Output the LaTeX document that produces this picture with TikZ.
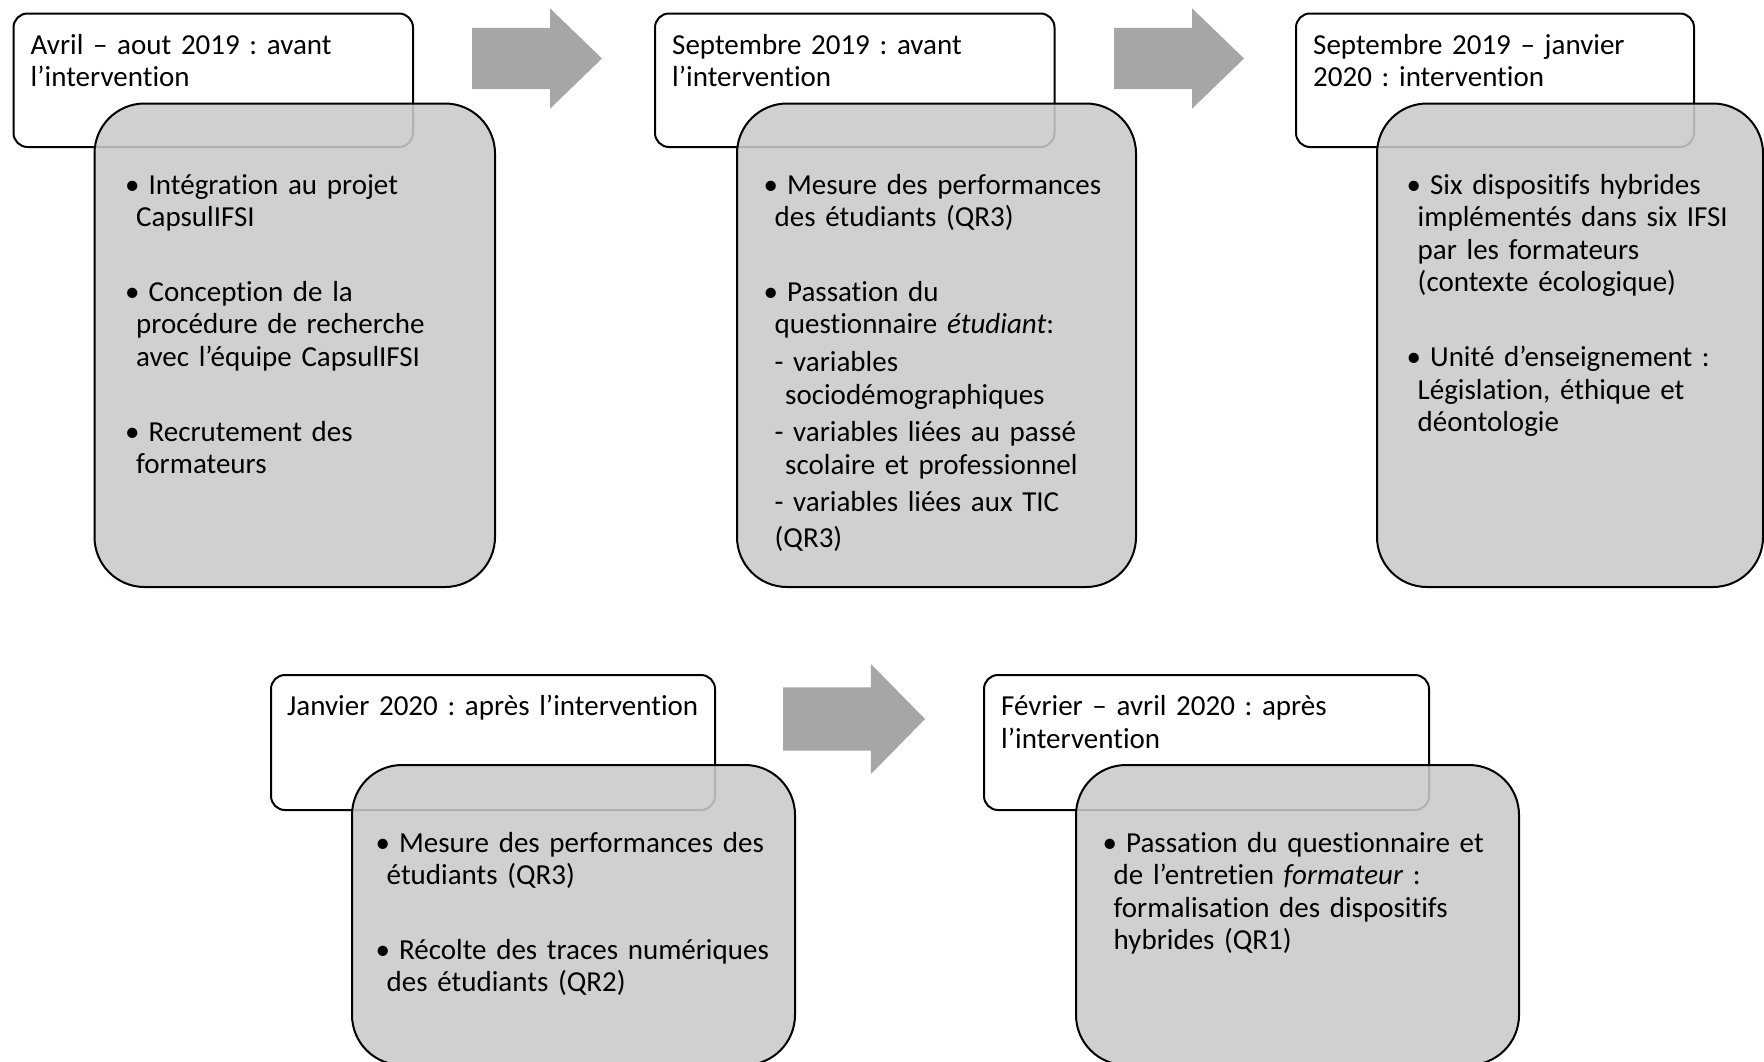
\documentclass[tikz,border=0pt]{standalone}
\usepackage{fontspec}
\setmainfont{Carlito}[Ligatures=NoCommon]
\frenchspacing
\usetikzlibrary{shapes.arrows}
\definecolor{boxgrey}{HTML}{CACACA}
\definecolor{arrowgrey}{HTML}{A6A6A6}
\newcommand{\ind}{\hspace*{11pt}}
\newcommand{\indd}{\hspace*{21.5pt}}
\newcommand{\bul}{•\hspace{9pt}}

\begin{document}
\begin{tikzpicture}[x=1pt,y=-1pt]
  \tikzstyle{phase}=[draw, line width=2pt, rounded corners=14pt, fill=white,
    anchor=north west, inner sep=0, outer sep=0]
  \tikzstyle{detail}=[draw, line width=2pt, rounded corners=50pt, fill=boxgrey,
    fill opacity=0.88, anchor=north west, inner sep=0, outer sep=0]
  \tikzstyle{steparrow}=[single arrow, fill=arrowgrey, anchor=tail, inner xsep=0,
    inner ysep=30.5pt, outer sep=0, minimum height=130pt, minimum width=99pt,
    single arrow head extend=19.5pt, single arrow tip angle=88]
  \tikzstyle{boxtext}=[anchor=base west, inner sep=0, text width=460pt, align=left,
    font={\fontsize{29}{32.6}\selectfont}]

  \useasboundingbox (0,0) rectangle (1764,1061);
  \clip (0,0) rectangle (1764,1061);

  % first row
  \node[phase, minimum width=399.5pt, minimum height=133.5pt] (p1) at (13.5,13.5) {};
  \node[detail, minimum width=400.5pt, minimum height=483.5pt] (d1) at (94.5,103.5) {};
  \node[phase, minimum width=399.5pt, minimum height=133.5pt] (p2) at (655,13.5) {};
  \node[detail, minimum width=399pt, minimum height=483.5pt] (d2) at (737,103.5) {};
  \node[phase, minimum width=398pt, minimum height=133.5pt] (p3) at (1296,13.5) {};
  \node[detail, minimum width=386pt, minimum height=483.5pt] (d3) at (1377,103.5) {};

  \node[steparrow] (a1) at (472,58.5) {};
  \node[steparrow] (a2) at (1114,58.5) {};

  \node[boxtext] (p1t) at ([shift={(17,40.5)}]p1.north west)
    {Avril – aout 2019 : avant\\l’intervention};
  \node[boxtext] (p2t) at ([shift={(17,40.5)}]p2.north west)
    {Septembre 2019 : avant\\l’intervention};
  \node[boxtext] (p3t) at ([shift={(17,40.5)}]p3.north west)
    {Septembre 2019 – janvier\\2020 : intervention};

  \node[boxtext] (d1t) at ([shift={(30.5,90.5)}]d1.north west)
    {\bul Intégration au projet\\
     \ind CapsulIFSI\\[42pt]
     \bul Conception de la\\
     \ind procédure de recherche\\
     \ind avec l’équipe CapsulIFSI\\[42pt]
     \bul Recrutement des\\
     \ind formateurs};
  \node[boxtext] (d2t) at ([shift={(26.5,90.5)}]d2.north west)
    {\bul Mesure des performances\\
     \ind des étudiants (QR3)\\[42pt]
     \bul Passation du\\
     \ind questionnaire \textit{étudiant}:\\[5pt]
     \ind - variables\\
     \indd sociodémographiques\\[5pt]
     \ind - variables liées au passé\\
     \indd scolaire et professionnel\\[5pt]
     \ind - variables liées aux TIC\\[3pt]
     \ind (QR3)};
  \node[boxtext] (d3t) at ([shift={(29.5,90.5)}]d3.north west)
    {\bul Six dispositifs hybrides\\
     \ind implémentés dans six IFSI\\
     \ind par les formateurs\\
     \ind (contexte écologique)\\[42pt]
     \bul Unité d’enseignement :\\
     \ind Législation, éthique et\\
     \ind déontologie};

  % second row
  \node[phase, minimum width=444pt, minimum height=135pt] (p4) at (271,675) {};
  \node[detail, minimum width=443pt, minimum height=300pt] (d4) at (352,765) {};
  \node[phase, minimum width=445pt, minimum height=135pt] (p5) at (984,675) {};
  \node[detail, minimum width=443pt, minimum height=300pt] (d5) at (1076,765) {};

  \node[steparrow, minimum height=142pt, minimum width=110pt, inner ysep=31.5pt,
    single arrow head extend=23.5pt, single arrow tip angle=91] (a3) at (783,719) {};

  \node[boxtext] (p4t) at ([shift={(16,40.5)}]p4.north west)
    {Janvier 2020 : après l’intervention};
  \node[boxtext] (p5t) at ([shift={(17,40.5)}]p5.north west)
    {Février – avril 2020 : après\\l’intervention};

  \node[boxtext] (d4t) at ([shift={(23.5,87)}]d4.north west)
    {\bul Mesure des performances des\\
     \ind étudiants (QR3)\\[42pt]
     \bul Récolte des traces numériques\\
     \ind des étudiants (QR2)};
  \node[boxtext] (d5t) at ([shift={(26.5,87)}]d5.north west)
    {\bul Passation du questionnaire et\\
     \ind de l’entretien \textit{formateur} :\\
     \ind formalisation des dispositifs\\
     \ind hybrides (QR1)};
\end{tikzpicture}
\end{document}
